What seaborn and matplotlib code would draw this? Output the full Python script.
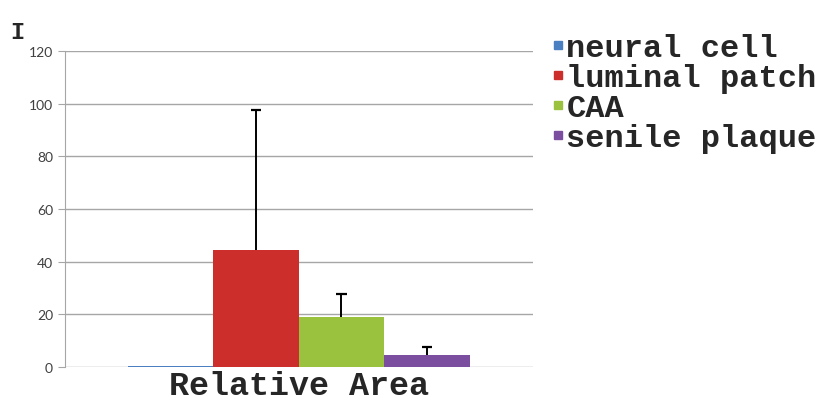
import pandas as pd
import matplotlib.pyplot as plt
from matplotlib.lines import Line2D
import seaborn as sns

# data
groups = ["neural cell", "luminal patch", "CAA", "senile plaque"]
means = [0.5, 44.3, 19.0, 4.6]
upper_err = [0.0, 53.2, 8.8, 2.9]
category = ["Relative Area"] * 4
colors = ["#4a7fc1", "#cc2f2b", "#9bc23e", "#7b4ea0"]

df = pd.DataFrame({"cat": category, "group": groups, "value": means, "err": upper_err})

sns.set_style("white")
plt.rcParams['font.family'] = ['Lato', 'DejaVu Sans']
mono = ["Liberation Mono", "DejaVu Sans Mono"]

fig = plt.figure(figsize=(8.31, 4.06), dpi=100)
ax = fig.add_axes([0.078, 0.094, 0.563, 0.778])

sns.barplot(data=df, x="cat", y="value", hue="group", hue_order=groups,
            palette=colors, saturation=1, width=0.73, errorbar=None,
            linewidth=0, legend=False, ax=ax)

# one-sided (upper) error bars with a cap on top only
cap = 0.011
for patch, e in zip(ax.patches, upper_err):
    if e <= 0:
        continue
    cx = patch.get_x() + patch.get_width() / 2
    top = patch.get_height()
    ax.vlines(cx, top, top + e, color="black", linewidth=1.4, zorder=3)
    ax.hlines(top + e, cx - cap, cx + cap, color="black", linewidth=1.6, zorder=3)

ax.set_ylim(0, 120)
ax.set_yticks(range(0, 121, 20))
ax.set_xlim(-0.5, 0.5)
ax.yaxis.grid(True, color="#a6a6a6", linewidth=1)
ax.set_axisbelow(True)
for s in ["top", "right", "bottom"]:
    ax.spines[s].set_visible(False)
ax.spines["left"].set_color("#a6a6a6")
ax.tick_params(axis="y", length=5, color="#a6a6a6", labelsize=10, labelcolor="#404040", left=True)
ax.tick_params(axis="x", length=0)
ax.set_xticks([])
ax.set_ylabel("")
ax.set_xlabel("Relative Area", fontsize=24, fontweight="bold", family=mono, labelpad=2)

# legend with small square keys
handles = [Line2D([], [], marker="s", linestyle="none", markersize=6,
                  markerfacecolor=c, markeredgecolor=c) for c in colors]
leg = fig.legend(handles, groups, loc="upper left", bbox_to_anchor=(0.647, 0.955),
                 frameon=False, handlelength=0.3, handletextpad=0.1,
                 labelspacing=0.0, borderpad=0,
                 prop={"family": mono, "weight": "bold", "size": 23})

fig.text(0.012, 0.905, "I", fontsize=17, fontweight="bold", family=mono)

fig.savefig("out.png", dpi=100)
